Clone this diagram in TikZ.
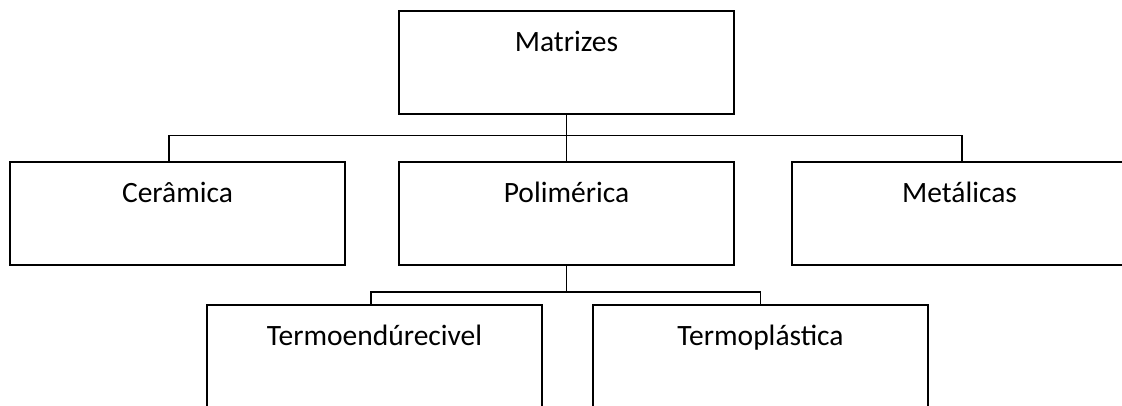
\documentclass[tikz,border=0pt]{standalone}
\usepackage{fontspec}
\setmainfont{Carlito}
\usepackage{tikz}
\usetikzlibrary{calc}

\begin{document}
\begin{tikzpicture}[x=1pt, y=-1pt,
    box/.style={draw, line width=2pt, minimum width=335pt, minimum height=103pt,
        inner sep=0pt, outer sep=0pt, anchor=north, text height=40pt, text depth=62pt,
        font=\fontsize{29.5}{35}\selectfont},
    link/.style={line width=1.6pt}]
    % Frame of the picture
    \clip (0,0) rectangle (1122,406);

    % Boxes
    \node[box] (matrizes) at (566.5,11) {Matrizes};
    \node[box] (ceramica) at (177.5,162.5) {Cerâmica};
    \node[box] (polimerica) at (566.5,162.5) {Polimérica};
    \node[box] (metalicas) at (959.5,162.5) {Metálicas};
    \node[box] (termoend) at (374.5,305) {Termoendúrecivel};
    \node[box] (termoplast) at (760.5,305) {Termoplástica};

    % Connectors
    \draw[link] (matrizes.south) -- (polimerica.north);
    \draw[link] ([xshift=-8.5pt]ceramica.north) -- ++(0,-27) -| ([xshift=2.5pt]metalicas.north);
    \draw[link] (polimerica.south) -- ++(0,26.5);
    \draw[link] ([xshift=-3.5pt]termoend.north) -- ++(0,-13) -| (termoplast.north);
\end{tikzpicture}
\end{document}
